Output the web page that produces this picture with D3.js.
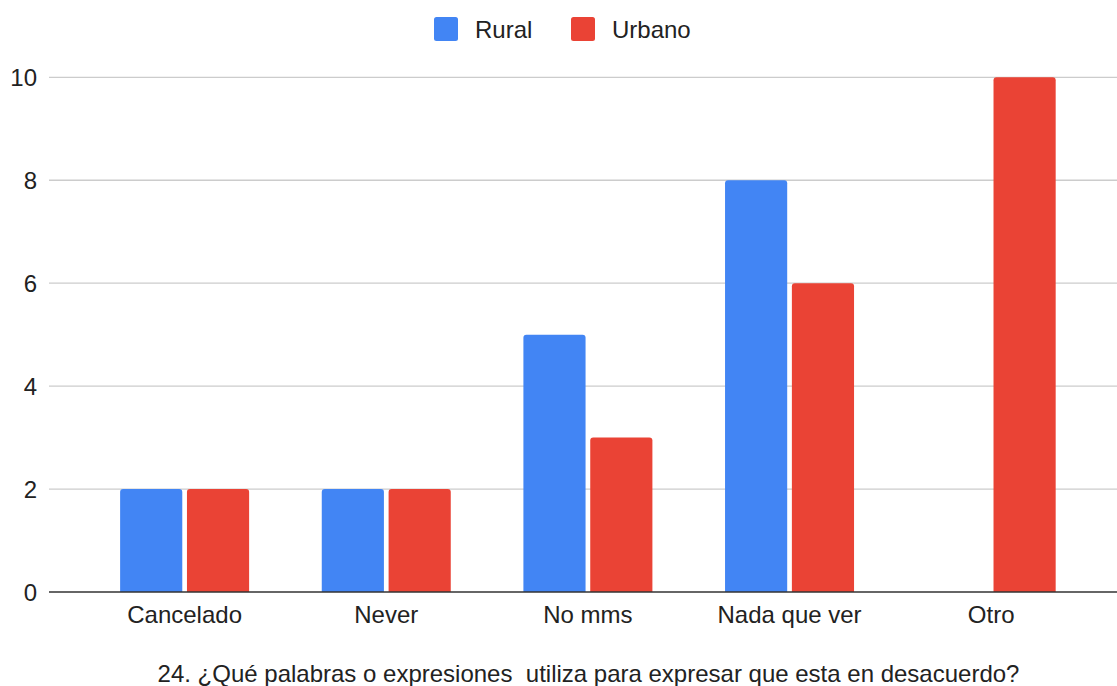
<!DOCTYPE html>
<html>
<head>
<meta charset="utf-8">
<script src="https://cdn.jsdelivr.net/npm/d3@7"></script>
<style>
  html, body { margin: 0; padding: 0; background: #fff; }
  svg { display: block; }
  text { font-family: "Liberation Sans", Arial, sans-serif; fill: #222; white-space: pre; }
</style>
</head>
<body>
<svg id="chart" width="1117" height="686"></svg>
<script>
const categories = ["Cancelado", "Never", "No mms", "Nada que ver", "Otro"];
const seriesNames = ["Rural", "Urbano"];
const rural = [2, 2, 5, 8, 0];
const urbano = [2, 2, 3, 6, 10];
const yTicks = [0, 2, 4, 6, 8, 10];
const title = "24. ¿Qué palabras o expresiones  utiliza para expresar que esta en desacuerdo?";
const colors = ["#4285F4", "#EA4335"];

const values = [rural, urbano];
const svg = d3.select("#chart");
const fontSize = 24;

const x0 = d3.scaleBand().domain(categories).range([83.8, 1092]).padding(0);
const x1 = d3.scaleBand().domain(seriesNames).range([-64.5, 64.5]).paddingInner(0.07);
const y = d3.scaleLinear().domain([0, 10]).range([592, 77.3]);

// gridlines
svg.append("g").selectAll("line").data(yTicks.filter(t => t !== 0)).join("line")
  .attr("x1", 49).attr("x2", 1117)
  .attr("y1", d => y(d)).attr("y2", d => y(d))
  .attr("stroke", "#cccccc").attr("stroke-width", 1.3);

// y labels
svg.append("g").selectAll("text").data(yTicks).join("text")
  .attr("x", 37).attr("y", d => y(d)).attr("dy", "0.36em")
  .attr("text-anchor", "end").attr("font-size", fontSize)
  .text(d => d);

// bars with rounded tops
function barPath(x, w, yTop, yBase, r) {
  const h = yBase - yTop;
  if (h <= 0) return "";
  r = Math.min(r, h, w / 2);
  return `M${x},${yBase}V${yTop + r}Q${x},${yTop} ${x + r},${yTop}H${x + w - r}Q${x + w},${yTop} ${x + w},${yTop + r}V${yBase}Z`;
}
const barData = [];
categories.forEach((c, i) => {
  seriesNames.forEach((s, j) => {
    barData.push({ c, s, v: values[j][i], color: colors[j] });
  });
});
svg.append("g").selectAll("path").data(barData).join("path")
  .attr("d", d => barPath(x0(d.c) + x0.bandwidth() / 2 + x1(d.s), x1.bandwidth(), y(d.v), y(0), 3))
  .attr("fill", d => d.color);

// baseline
svg.append("line").attr("x1", 49).attr("x2", 1117).attr("y1", y(0)).attr("y2", y(0))
  .attr("stroke", "#333").attr("stroke-width", 1.5);

// x labels
svg.append("g").selectAll("text").data(categories).join("text")
  .attr("x", d => x0(d) + x0.bandwidth() / 2).attr("y", 623.3)
  .attr("text-anchor", "middle").attr("font-size", fontSize)
  .text(d => d);

// legend
const legend = svg.append("g");
const legendX = [434, 571];
const legendTextX = [475, 612];
seriesNames.forEach((s, j) => {
  legend.append("rect").attr("x", legendX[j]).attr("y", 17).attr("width", 24).attr("height", 24)
    .attr("rx", 2.5).attr("fill", colors[j]);
  legend.append("text").attr("x", legendTextX[j]).attr("y", 29).attr("dy", "0.36em")
    .attr("font-size", fontSize).text(s);
});

// title
svg.append("text").attr("x", 588.5).attr("y", 682.4).attr("text-anchor", "middle")
  .attr("font-size", fontSize).text(title);
</script>
</body>
</html>
